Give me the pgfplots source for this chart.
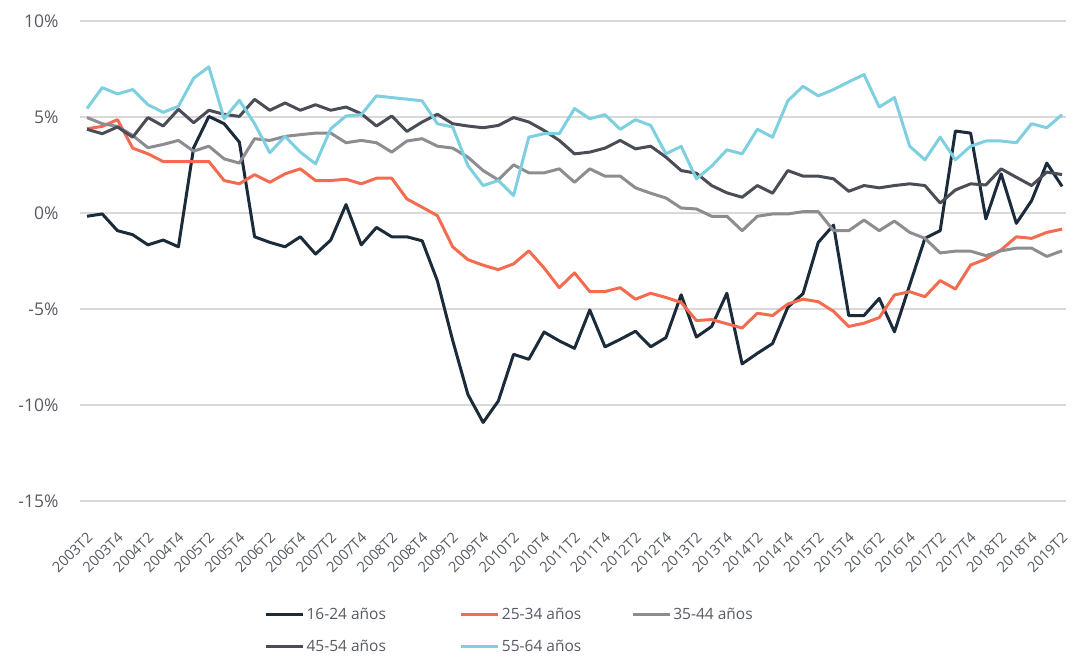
\documentclass[border=0pt]{standalone}
\usepackage{pgfplots}
\pgfplotsset{compat=1.18}
\usepackage{pgfplotstable}
\usepackage{fontspec}
\setmainfont{Open Sans}
\definecolor{cNavy}{HTML}{1B2B3A}
\definecolor{cOrange}{HTML}{F36C4F}
\definecolor{cGray}{HTML}{8C8D91}
\definecolor{cDark}{HTML}{4A4D55}
\definecolor{cCyan}{HTML}{7ECFDF}
\definecolor{cText}{HTML}{555A63}
\definecolor{cGrid}{HTML}{D9D9D9}

\pgfplotstableread{
i n o g dg cy
0 -0.17 4.39 4.97 4.36 5.44
1 -0.05 4.51 4.65 4.13 6.53
2 -0.92 4.86 4.51 4.48 6.20
3 -1.13 3.38 4.04 3.95 6.43
4 -1.66 3.08 3.40 4.97 5.64
5 -1.41 2.68 3.57 4.53 5.24
6 -1.76 2.68 3.78 5.40 5.56
7 3.40 2.68 3.22 4.70 7.02
8 5.03 2.68 3.48 5.35 7.61
9 4.65 1.69 2.82 5.14 4.91
10 3.69 1.52 2.60 5.03 5.87
11 -1.24 2.00 3.87 5.92 4.65
12 -1.53 1.60 3.78 5.35 3.14
13 -1.76 2.04 3.99 5.73 3.99
14 -1.24 2.30 4.08 5.35 3.17
15 -2.14 1.69 4.16 5.64 2.56
16 -1.41 1.69 4.16 5.35 4.39
17 0.44 1.76 3.66 5.52 5.05
18 -1.66 1.52 3.78 5.17 5.12
19 -0.75 1.81 3.66 4.53 6.10
20 -1.24 1.81 3.17 5.05 6.01
21 -1.24 0.73 3.75 4.25 5.93
22 -1.45 0.30 3.87 4.74 5.84
23 -3.54 -0.14 3.48 5.14 4.65
24 -6.63 -1.76 3.38 4.65 4.48
25 -9.45 -2.43 2.91 4.53 2.47
26 -10.91 -2.72 2.21 4.44 1.43
27 -9.79 -2.95 1.72 4.56 1.69
28 -7.36 -2.65 2.51 4.97 0.91
29 -7.62 -1.97 2.09 4.74 3.95
30 -6.20 -2.86 2.09 4.30 4.13
31 -6.66 -3.89 2.30 3.78 4.13
32 -7.05 -3.12 1.60 3.08 5.44
33 -5.05 -4.09 2.30 3.17 4.91
34 -6.97 -4.09 1.92 3.38 5.12
35 -6.58 -3.89 1.92 3.78 4.36
36 -6.16 -4.49 1.31 3.34 4.86
37 -6.97 -4.18 1.03 3.48 4.56
38 -6.49 -4.40 0.78 2.91 3.08
39 -4.26 -4.66 0.26 2.21 3.47
40 -6.46 -5.60 0.21 2.07 1.78
41 -5.91 -5.55 -0.17 1.43 2.44
42 -4.18 -5.77 -0.17 1.05 3.29
43 -7.86 -5.99 -0.92 0.82 3.08
44 -7.31 -5.22 -0.17 1.43 4.36
45 -6.80 -5.34 -0.05 1.03 3.95
46 -4.91 -4.74 -0.05 2.21 5.84
47 -4.20 -4.49 0.07 1.92 6.60
48 -1.53 -4.62 0.07 1.92 6.10
49 -0.63 -5.12 -0.92 1.78 6.43
50 -5.34 -5.91 -0.92 1.13 6.83
51 -5.34 -5.74 -0.37 1.43 7.21
52 -4.45 -5.45 -0.92 1.31 5.52
53 -6.19 -4.27 -0.42 1.43 6.01
54 -3.75 -4.10 -1.01 1.52 3.48
55 -1.32 -4.36 -1.32 1.43 2.77
56 -0.92 -3.52 -2.08 0.52 3.95
57 4.27 -3.96 -1.99 1.20 2.77
58 4.16 -2.71 -1.99 1.52 3.48
59 -0.31 -2.40 -2.22 1.46 3.75
60 2.04 -1.92 -1.97 2.30 3.75
61 -0.54 -1.24 -1.83 1.86 3.66
62 0.64 -1.32 -1.83 1.43 4.65
63 2.60 -1.01 -2.26 2.13 4.44
64 1.39 -0.84 -1.97 2.00 5.12
}\datatable

\begin{document}
\begin{tikzpicture}[x=1pt,y=1pt]
\useasboundingbox (-80,-157) rectangle (995,501);
\begin{axis}[
  at={(0,0)}, anchor=south west,
  scale only axis, width=986pt, height=480pt,
  xmin=-0.46, xmax=64.26, ymin=-15, ymax=10,
  ytick={-15,-10,-5,0,5,10},
  yticklabels={-15\%,-10\%,-5\%,0\%,5\%,10\%},
  ymajorgrids,
  grid style={cGrid, line width=1.3pt},
  axis line style={draw=none},
  major tick length=0pt,
  xtick={0,2,...,64},
  xticklabels={2003T2,2003T4,2004T2,2004T4,2005T2,2005T4,2006T2,2006T4,2007T2,2007T4,2008T2,2008T4,2009T2,2009T4,2010T2,2010T4,2011T2,2011T4,2012T2,2012T4,2013T2,2013T4,2014T2,2014T4,2015T2,2015T4,2016T2,2016T4,2017T2,2017T4,2018T2,2018T4,2019T2},
  xticklabel style={xshift=-1pt, yshift=-30pt, rotate=45, anchor=north east, inner sep=0pt, font=\fontsize{14.5}{16}\selectfont, text=cText},
  yticklabel style={font=\fontsize{17.5}{19}\selectfont, text=cText, xshift=-18pt},
  legend columns=3,
  legend cell align=left,
  legend style={draw=none, fill=none, at={(0.184,-0.214)}, anchor=north west,
    font=\fontsize{15.5}{17}\selectfont, text=cText,
    /tikz/column 2/.style={column sep=72pt},
    /tikz/column 4/.style={column sep=48pt},
    row sep=15pt},
  legend image code/.code={\draw[#1, line width=3pt] (0pt,0pt) -- (37pt,0pt);},
]
\addplot[cNavy, line width=3pt, line join=round, no markers] table[x=i, y=n] {\datatable};
\addlegendentry{16-24 años}
\addplot[cOrange, line width=3pt, line join=round, no markers] table[x=i, y=o] {\datatable};
\addlegendentry{25-34 años}
\addplot[cGray, line width=3pt, line join=round, no markers] table[x=i, y=g] {\datatable};
\addlegendentry{35-44 años}
\addplot[cDark, line width=3pt, line join=round, no markers] table[x=i, y=dg] {\datatable};
\addlegendentry{45-54 años}
\addplot[cCyan, line width=3pt, line join=round, no markers] table[x=i, y=cy] {\datatable};
\addlegendentry{55-64 años}
\end{axis}
\end{tikzpicture}
\end{document}
